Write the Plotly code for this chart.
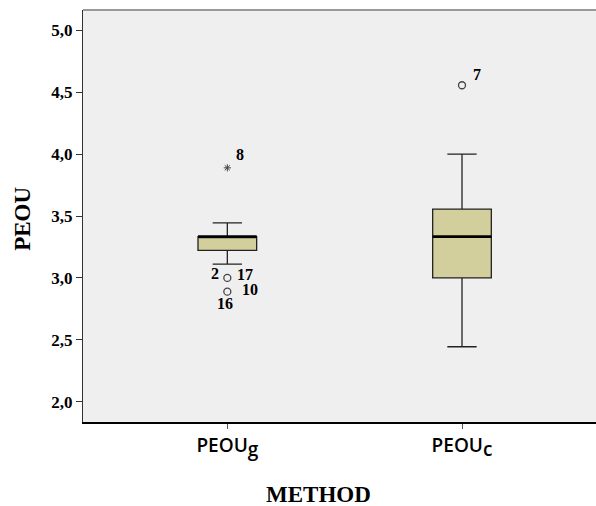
import plotly.graph_objects as go

# ---- data ----
categories = ['PEOU<sub><span style="font-size:19px">g</span></sub>',
              'PEOU<sub><span style="font-size:19px">c</span></sub>']
positions = [0, 1]
q1 = [3.222, 3.000]
median = [3.333, 3.333]
q3 = [3.333, 3.556]
lower_whisker = [3.111, 2.444]
upper_whisker = [3.444, 4.000]

outlier_group = [0, 0, 1]
outlier_value = [3.000, 2.889, 4.556]
extreme_group = [0]
extreme_value = [3.889]

label_group = [0, 0, 0, 0, 0, 1]
label_value = [3.889, 3.000, 3.000, 2.889, 2.889, 4.556]
label_text = ["8", "2", "17", "10", "16", "7"]

y_ticks = [2.0, 2.5, 3.0, 3.5, 4.0, 4.5, 5.0]

# ---- style ----
label_shift = [(13, 13), (-12, 4), (18, 3), (23, 2), (-2, -12), (15, 11)]
box_width = 0.25
fill = "#D3CF9C"
edge = "#222222"
serif = "Liberation Serif"

fig = go.Figure()
for i, p in enumerate(positions):
    fig.add_trace(go.Box(
        x=[p], q1=[q1[i]], median=[median[i]], q3=[q3[i]],
        lowerfence=[lower_whisker[i]], upperfence=[upper_whisker[i]],
        width=box_width, whiskerwidth=0.5, boxpoints=False,
        fillcolor=fill, line=dict(color=edge, width=1.3),
        hoverinfo="skip", showlegend=False))
    fig.add_trace(go.Scatter(
        x=[p - box_width / 2, p + box_width / 2], y=[median[i], median[i]],
        mode="lines", line=dict(color="black", width=2.8),
        hoverinfo="skip", showlegend=False))

fig.add_trace(go.Scatter(
    x=[positions[g] for g in outlier_group], y=outlier_value, mode="markers",
    marker=dict(symbol="circle-open", size=7, color="#444",
                line=dict(width=1.3, color="#444")),
    hoverinfo="skip", showlegend=False))
fig.add_trace(go.Scatter(
    x=[positions[g] for g in extreme_group], y=extreme_value, mode="markers",
    marker=dict(symbol="asterisk-open", size=6, color="#444",
                line=dict(width=1, color="#444")),
    hoverinfo="skip", showlegend=False))

for g, v, t, (dx, dy) in zip(label_group, label_value, label_text, label_shift):
    fig.add_annotation(x=positions[g], y=v, text=t, showarrow=False,
                       xshift=dx, yshift=dy,
                       font=dict(family=serif, size=16, color="black", weight="bold"))

fig.add_annotation(xref="paper", yref="paper", x=0.46, y=-0.177, text="METHOD",
                   showarrow=False, xanchor="center", yanchor="middle",
                   font=dict(family=serif, size=23, color="black", weight="bold"))
fig.add_annotation(xref="paper", yref="paper", x=-0.117, y=0.493, text="PEOU",
                   textangle=-90, showarrow=False, xanchor="center", yanchor="middle",
                   font=dict(family=serif, size=23, color="black", weight="bold"))

fig.add_shape(type="line", xref="paper", yref="paper", x0=0, x1=1, y0=1, y1=1,
              line=dict(color="#999999", width=2))

fig.update_layout(
    width=596, height=506,
    margin=dict(l=83, r=0, t=10, b=84),
    paper_bgcolor="white", plot_bgcolor="#EFEFEF",
    separators=",.",
    showlegend=False,
    xaxis=dict(range=[-0.615, 1.571], tickmode="array", tickvals=positions,
               ticktext=categories, showgrid=False, zeroline=False,
               showline=True, linecolor="black", linewidth=1.5,
               ticks="outside", ticklen=5, tickcolor="#555",
               tickfont=dict(family="Open Sans", size=19, color="black", weight=600)),
    yaxis=dict(range=[1.836, 5.164], tickmode="array", tickvals=y_ticks,
               tickformat=".1f", showgrid=False, zeroline=False,
               showline=True, linecolor="#333", linewidth=1,
               ticks="outside", ticklen=6, tickcolor="#333",
               tickfont=dict(family=serif, size=17, color="black", weight="bold")),
)

fig.write_html(
    "out.html",
    config={"displayModeBar": False},
    post_script="document.body.style.margin='0';document.body.style.overflow='hidden';",
)
